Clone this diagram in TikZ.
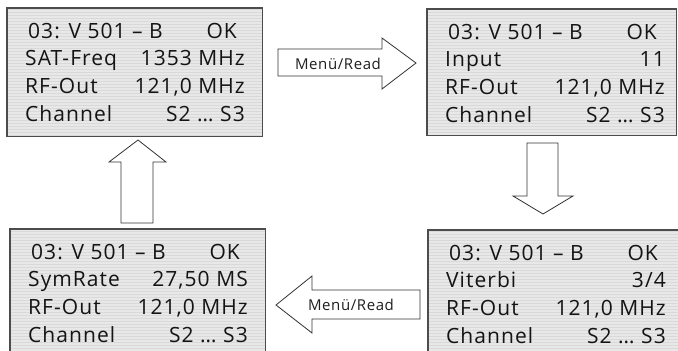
\documentclass[tikz,border=0pt]{standalone}
\usepackage{fontspec}
\setmainfont{Open Sans}
\newfontfamily\lcdface[LetterSpace=5]{Open Sans}
\newfontfamily\arrowface[LetterSpace=4]{Open Sans}
\newcommand\lcdfont{\lcdface\fontsize{21}{24}\selectfont}
\newcommand\arrowfont{\arrowface\fontsize{15}{17}\selectfont}

% four text rows of one display; #1 = display node, #2/#3 = second row
\newcommand\lcdrows[3]{%
  \begin{scope}[shift={(#1.north west)}]
    \node[lbl] (#1-h)  at (21,30)  {03: V 501 – B};
    \node[val] (#1-ok) at (230,30) {OK};
    \node[lbl] (#1-a)  at (18,57)  {#2};
    \node[val] (#1-av) at (238,57) {#3};
    \node[lbl] (#1-b)  at (18,85)  {RF-Out};
    \node[val] (#1-bv) at (238,85) {121,0 MHz};
    \node[lbl] (#1-c)  at (18,113) {Channel};
    \node[val] (#1-cv) at (238,113){S2 … S3};
  \end{scope}}

% striped display background with its frame
\newcommand\lcdframe[1]{%
  \begin{scope}
    \clip (#1.north west) rectangle (#1.south east);
    \foreach \yy in {0,3,...,360}
      \draw[stripe] (0,\yy) -- (678,\yy);
  \end{scope}
  \draw[frame] (#1.north west) rectangle (#1.south east);}

\begin{document}
\begin{tikzpicture}[x=1pt,y=-1pt,
  screen/.style={fill=black!9, inner sep=0pt, anchor=north west,
                 minimum width=#1, minimum height=128pt},
  stripe/.style={black!15, line width=0.9pt},
  frame/.style={draw=black!70, line width=1.8pt},
  lbl/.style={anchor=base west, inner sep=0pt, font=\lcdfont, text=black!92},
  val/.style={anchor=base east, inner sep=0pt, font=\lcdfont, text=black!92},
  blockarrow/.style={draw=black!80, line width=0.8pt, fill=white, line join=miter},
  armtext/.style={inner sep=0pt, font=\arrowfont, text=black!88}]

\useasboundingbox (0,0) rectangle (678,351);
\clip (0,0) rectangle (678,351);

% displays
\node[screen=255pt] (sat)   at (7,8)     {};
\node[screen=249pt, minimum height=126pt] (input) at (427,9) {};
\node[screen=255pt] (sym)   at (10,229)  {};
\node[screen=252pt] (vit)   at (428,230) {};

\lcdframe{sat}\lcdframe{input}\lcdframe{sym}\lcdframe{vit}

\lcdrows{sat}{SAT-Freq}{1353 MHz}
\lcdrows{input}{Input}{11}
\lcdrows{sym}{SymRate}{27,50 MS}
\lcdrows{vit}{Viterbi}{3/4}

% block arrows between the displays
\draw[blockarrow] (278,49) -- (382,49) -- (382,38) -- (416,63) -- (382,89)
  -- (382,76) -- (278,76) -- cycle;
\node[armtext] (menuA) at (338,63.5) {Menü/Read};

\draw[blockarrow] (543,214) -- (573,196) -- (558,196) -- (558,143) -- (527,143)
  -- (527,196) -- (513,196) -- cycle;

\draw[blockarrow] (420,290) -- (312,290) -- (312,276) -- (276,305) -- (312,333)
  -- (312,319) -- (420,319) -- cycle;
\node[armtext] (menuB) at (351,305) {Menü/Read};

\draw[blockarrow] (138,140) -- (166,162) -- (153,162) -- (153,223) -- (121,223)
  -- (121,162) -- (109,162) -- cycle;
\end{tikzpicture}
\end{document}
